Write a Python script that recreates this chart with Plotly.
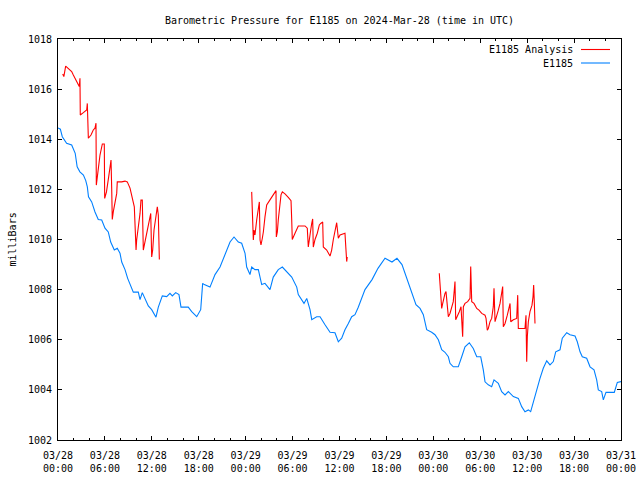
import plotly.graph_objects as go

# hours since 2024-03-28 00:00 UTC
obs_hours = [0, 0.3, 0.55, 1.1, 1.75, 2.2, 2.45, 2.8, 3.25, 3.55, 3.75, 3.9, 4.31, 4.73, 5.15, 5.59,
             6.01, 6.43, 6.74, 7.2, 7.58, 7.93, 8.15, 8.57, 8.91, 9.08, 9.63, 10.27, 10.49, 10.78,
             11.13, 11.55, 11.98, 12.53, 12.83, 13.34, 13.9, 14.32, 14.62, 15.05, 15.47, 15.73,
             16.66, 17.1, 17.74, 18.25, 18.5, 18.71, 19.44, 20.08, 20.72, 21.36, 22.0, 22.51,
             23.06, 23.49, 23.92, 24.13, 24.55, 24.77, 25.19, 25.62, 26.05, 26.47, 27.11, 27.53,
             28.17, 28.69, 29.32, 29.89, 30.53, 30.73, 31.46, 31.81, 32.23, 32.45, 33.08, 33.51,
             34.15, 34.79, 35.42, 35.85, 36.28, 36.7, 37.13, 37.56, 37.98, 38.4, 39.26, 40.16,
             40.92, 41.82, 42.71, 43.35, 43.99, 44.76, 45.27, 45.78, 46.3, 46.72, 47.15, 47.79,
             48.21, 48.64, 49.07, 49.49, 49.92, 50.13, 50.55, 51.19, 51.63, 52.05, 52.6, 53.11,
             53.55, 54.06, 54.39, 54.61, 55.03, 55.46, 55.76, 56.31, 56.74, 57.17, 57.59, 58.23,
             58.87, 59.3, 59.72, 60.15, 60.45, 60.79, 61.22, 61.64, 62.06, 62.5, 62.92, 63.34,
             63.65, 64.2, 64.49, 65.06, 65.48, 66.12, 66.41, 66.76, 67.05, 67.61, 68.04, 68.55,
             68.89, 69.1, 69.53, 69.74, 70.08, 71.14, 71.53, 72.0]
obs_mb = [1014.45, 1014.4, 1014.1, 1013.84, 1013.77, 1013.44, 1012.9, 1012.7, 1012.57, 1012.35, 1012.1, 1011.7, 1011.5, 1011.1, 1010.8, 1010.78,
          1010.45, 1010.3, 1009.9, 1009.58, 1009.65, 1009.45, 1009.1, 1008.8, 1008.45, 1008.3, 1007.9, 1007.9, 1007.6, 1007.88,
          1007.65, 1007.35, 1007.2, 1006.9, 1007.3, 1007.75, 1007.72, 1007.85, 1007.75, 1007.88, 1007.8, 1007.3,
          1007.3, 1007.12, 1006.92, 1007.2, 1008.25, 1008.2, 1008.1, 1008.6, 1008.9, 1009.4, 1009.9, 1010.1,
          1009.9, 1009.85, 1009.45, 1008.9, 1008.6, 1008.9, 1008.8, 1008.8, 1008.2, 1008.25, 1008.0, 1008.5,
          1008.8, 1008.9, 1008.7, 1008.5, 1008.1, 1007.8, 1007.45, 1007.65, 1007.2, 1006.8, 1006.92, 1006.92,
          1006.6, 1006.3, 1006.28, 1005.92, 1006.06, 1006.4, 1006.65, 1006.92, 1007.0, 1007.3, 1008.0, 1008.4,
          1008.85, 1009.25, 1009.1, 1009.25, 1009.0, 1008.3, 1007.9, 1007.4, 1007.25, 1007.0, 1006.4, 1006.3,
          1006.2, 1006.0, 1005.6, 1005.5, 1005.32, 1005.06, 1004.92, 1004.92, 1005.32, 1005.72, 1005.88, 1005.65,
          1005.32, 1005.32, 1004.8, 1004.32, 1004.2, 1004.13, 1004.4, 1004.26, 1003.93, 1003.8, 1003.93, 1003.73,
          1003.66, 1003.33, 1003.13, 1003.2, 1003.13, 1003.53, 1003.93, 1004.46, 1004.86, 1005.16, 1005.0, 1005.13,
          1005.52, 1005.6, 1006.06, 1006.28, 1006.2, 1006.15, 1005.92, 1005.52, 1005.32, 1005.26, 1004.92, 1004.8,
          1004.4, 1004.0, 1003.93, 1003.6, 1003.9, 1003.9, 1004.3, 1004.33]

ana_hours = [0.6, 0.75, 0.98, 1.32, 1.53, 1.75, 1.96, 2.17, 2.39, 2.6, 2.72, 2.81, 2.85, 3.24, 3.67, 3.75,
             3.8, 3.88, 4.22, 4.51, 4.73, 4.86, 4.9, 5.03, 5.15, 5.37, 5.67, 5.92, 5.97, 6.2, 6.48,
             6.78, 6.87, 6.94, 7.07, 7.29, 7.51, 7.58, 8.15, 8.57, 8.86, 9.21, 9.5, 9.76, 9.98, 10.06,
             10.27, 10.49, 10.61, 10.78, 10.91, 11.13, 11.34, 11.64, 11.86, 11.98, 12.11, 12.28, 12.49,
             12.7, 12.83, 12.96,
             None,
             24.77, 24.9, 24.98, 25.07, 25.19, 25.41, 25.62, 25.75, 25.84, 25.96, 26.13, 26.26, 26.47,
             26.69, 27.11, 27.53, 27.88, 27.92, 28.05, 28.17, 28.39, 28.52, 28.69, 29.03, 29.45, 29.8,
             29.89, 29.96, 30.31, 30.73, 31.59, 31.88, 32.01, 32.14, 32.32, 32.45, 32.57, 32.65, 32.87,
             33.16, 33.42, 33.6, 33.85, 33.93, 34.36, 34.79, 35.0, 35.21, 35.42, 35.64, 35.85, 36.07,
             36.7, 36.83, 36.92, 36.99,
             None,
             48.76, 48.85, 48.98, 49.07, 49.2, 49.37, 49.49, 49.62, 49.71, 49.92, 50.13, 50.35, 50.55,
             50.68, 50.77, 50.86, 51.06, 51.32, 51.54, 51.75, 51.84, 52.05, 52.39, 52.69, 52.78, 52.91,
             53.2, 53.55, 53.84, 54.19, 54.61, 54.74, 54.9, 55.03, 55.25, 55.46, 55.67, 55.76, 55.89,
             56.11, 56.31, 56.53, 56.74, 56.87, 56.95, 57.17, 57.46, 57.68, 57.81, 57.9, 58.23, 58.66,
             58.79, 58.87, 59.72, 59.85, 59.94, 60.02, 60.15, 60.36, 60.62, 60.75, 60.83, 60.92, 61.0]
ana_mb = [1016.6, 1016.5, 1016.92, 1016.83, 1016.76, 1016.7, 1016.56, 1016.43, 1016.3, 1016.16, 1016.1, 1016.43, 1014.97, 1015.06, 1015.17, 1015.43,
          1014.77, 1014.04, 1014.17, 1014.37, 1014.44, 1014.64, 1012.17, 1012.57, 1012.9, 1013.37, 1013.81, 1013.81, 1011.64, 1011.9, 1012.5,
          1013.17, 1012.0, 1010.8, 1011.1, 1011.44, 1011.84, 1012.3, 1012.3, 1012.33, 1012.3, 1012.05, 1011.7, 1011.3, 1009.58, 1009.98,
          1010.5, 1011.04, 1011.57, 1011.57, 1009.58, 1009.9, 1010.25, 1010.65, 1011.04, 1009.3, 1009.58, 1010.38, 1010.78,
          1011.3, 1010.98, 1009.2,
          None,
          1011.9, 1010.38, 1009.98, 1010.38, 1010.18, 1010.78, 1011.3, 1011.5, 1009.98, 1009.78, 1010.05, 1010.3, 1010.9,
          1011.38, 1011.58, 1011.78, 1011.95, 1010.1, 1010.3, 1010.78, 1011.44, 1011.78, 1011.9, 1011.82, 1011.68, 1011.55,
          1010.78, 1010.0, 1010.25, 1010.54, 1010.54, 1010.45, 1009.7, 1010.1, 1010.38, 1010.64, 1010.82, 1009.7, 1010.0,
          1010.25, 1010.58, 1010.64, 1010.7, 1009.7, 1009.58, 1009.34, 1009.58, 1010.0, 1010.38, 1010.67, 1010.05, 1010.18,
          1010.25, 1009.65, 1009.12, 1009.3,
          None,
          1008.65, 1008.28, 1007.58, 1007.25, 1007.45, 1007.72, 1007.85, 1007.92, 1007.65, 1006.92, 1007.05, 1007.25, 1007.52,
          1007.98, 1008.32, 1006.8, 1006.92, 1007.12, 1007.32, 1006.12, 1007.32, 1007.45, 1007.52, 1007.65, 1008.92, 1007.52,
          1007.45, 1007.25, 1007.18, 1007.05, 1006.98, 1006.85, 1006.38, 1006.45, 1006.72, 1006.85, 1007.32, 1008.05, 1006.72,
          1006.92, 1007.18, 1007.45, 1007.85, 1008.12, 1006.52, 1006.65, 1006.98, 1007.25, 1007.45, 1006.72, 1006.8, 1006.85,
          1007.78, 1006.45, 1006.45, 1006.98, 1005.12, 1006.12, 1006.72, 1007.12, 1007.38, 1007.72, 1008.18, 1007.45, 1006.65]

tick_hours = [0, 6, 12, 18, 24, 30, 36, 42, 48, 54, 60, 66, 72]
tick_labels = ["03/28<br>00:00", "03/28<br>06:00", "03/28<br>12:00", "03/28<br>18:00",
               "03/29<br>00:00", "03/29<br>06:00", "03/29<br>12:00", "03/29<br>18:00",
               "03/30<br>00:00", "03/30<br>06:00", "03/30<br>12:00", "03/30<br>18:00",
               "03/31<br>00:00"]
y_ticks = [1002, 1004, 1006, 1008, 1010, 1012, 1014, 1016, 1018]

series_names = ["E1185 Analysis", "E1185"]
series_colors = ["#ff0000", "#0080ff"]

FONT = "DejaVu Sans Mono"
fig = go.Figure()
fig.add_trace(go.Scatter(x=ana_hours, y=ana_mb, mode="lines", name=series_names[0],
                         line=dict(color=series_colors[0], width=1.1), connectgaps=False))
fig.add_trace(go.Scatter(x=obs_hours, y=obs_mb, mode="lines", name=series_names[1],
                         line=dict(color=series_colors[1], width=1.1)))

W, H = 640, 480
PL, PR, PT, PB = 58, 621, 39, 440   # plot-area edges in pixels
L, T, R, B = PL, PT, W - PR, H - PB
pw = PR - PL
ph = PB - PT


def px_x(sx):
    return (sx - PL) / pw


def px_y(sy):
    return 1 - (sy - PT) / ph


fig.update_layout(
    width=W, height=H, autosize=False,
    margin=dict(l=L, r=R, t=T, b=B, pad=0),
    paper_bgcolor="white", plot_bgcolor="white",
    showlegend=False,
    font=dict(family=FONT, size=10, color="black"),
    title=dict(text="Barometric Pressure for E1185 on 2024-Mar-28 (time in UTC)",
               x=(L + pw / 2) / W, xanchor="center", y=1 - 20 / H, yanchor="middle",
               font=dict(family=FONT, size=10, color="black")),
    xaxis=dict(range=[0, 72], tickmode="array", tickvals=tick_hours, ticktext=tick_labels,
               ticks="inside", ticklen=4, tickwidth=1, tickcolor="black",
               showline=True, linecolor="black", linewidth=1, mirror="ticks",
               showgrid=False, zeroline=False, ticklabelstandoff=6, automargin=False,
               minor=dict(dtick=2, tick0=0, ticks="inside", ticklen=2, tickcolor="black", showgrid=False),
               tickfont=dict(family=FONT, size=10, color="black")),
    yaxis=dict(range=[1002, 1018], tickmode="array", tickvals=y_ticks,
               ticks="inside", ticklen=4, tickwidth=1, tickcolor="black",
               showline=True, linecolor="black", linewidth=1, mirror="ticks",
               showgrid=False, zeroline=False, ticklabelstandoff=3, automargin=False,
               tickfont=dict(family=FONT, size=10, color="black")),
)

fig.add_annotation(text="milliBars", textangle=-90, xref="paper", yref="paper",
                   x=px_x(12), y=0.5, xanchor="center", yanchor="middle", showarrow=False,
                   font=dict(family=FONT, size=10, color="black"))

# gnuplot-style key (text right-aligned, sample line to its right)
key_rows_y = [49.5, 63]
for name, color, ry in zip(series_names, series_colors, key_rows_y):
    fig.add_annotation(text=name, xref="paper", yref="paper",
                       x=px_x(575), y=px_y(ry), xanchor="right", yanchor="middle",
                       showarrow=False, font=dict(family=FONT, size=10, color="black"))
    fig.add_shape(type="line", xref="paper", yref="paper",
                  x0=px_x(581), x1=px_x(610), y0=px_y(ry), y1=px_y(ry),
                  line=dict(color=color, width=1.1))

fig.write_html("out.html", config={"displayModeBar": False},
               post_script="document.body.style.margin='0';document.body.style.overflow='hidden';")
